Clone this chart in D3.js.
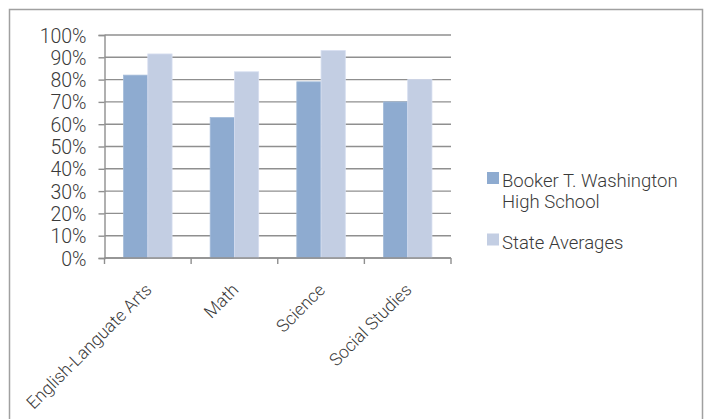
<!DOCTYPE html>
<html>
<head>
<meta charset="utf-8">
<script src="https://cdn.jsdelivr.net/npm/d3@7"></script>
<style>
  html, body { margin: 0; padding: 0; background: #fff; }
  svg text { font-family: "Roboto", "Liberation Sans", sans-serif; font-weight: 300; fill: #3a3a3a; }
</style>
</head>
<body>
<svg id="chart" width="707" height="419"></svg>
<script>
// Subjects along the x axis
const categories = ["English-Languate Arts", "Math", "Science", "Social Studies"];
// Series names and their percentages (0-100)
const seriesNames = ["Booker T. Washington High School", "State Averages"];
const schoolValues = [82, 63, 79, 70];
const stateValues = [91.5, 83.5, 93, 80];
// Y axis ticks
const yTicks = [0, 10, 20, 30, 40, 50, 60, 70, 80, 90, 100];

const colors = ["#8eabd0", "#c3cee3"];
const series = [schoolValues, stateValues];

const svg = d3.select("#chart");
const W = 707, H = 419;

// Outer chart frame (open at the bottom edge of the page)
svg.append("path")
  .attr("d", `M9.5,${H + 5} V9.5 H702.5 V${H + 5}`)
  .attr("fill", "none")
  .attr("stroke", "#a0a0a0")
  .attr("stroke-width", 1.5);

const plot = { left: 104.5, right: 451, top: 35, bottom: 258 };

const x0 = d3.scaleBand()
  .domain(categories)
  .range([plot.left, plot.right])
  .paddingInner(0.44)
  .paddingOuter(0.22);

const x1 = d3.scaleBand()
  .domain(d3.range(series.length))
  .range([0, x0.bandwidth()]);

const y = d3.scaleLinear()
  .domain([0, 100])
  .range([plot.bottom, plot.top]);

// Horizontal gridlines
svg.append("g")
  .selectAll("line")
  .data(yTicks)
  .join("line")
  .attr("x1", plot.left)
  .attr("x2", plot.right)
  .attr("y1", d => y(d))
  .attr("y2", d => y(d))
  .attr("stroke", "#8f8f8f")
  .attr("stroke-width", 1.4);

// Bars
const groups = svg.append("g")
  .selectAll("g")
  .data(categories)
  .join("g")
  .attr("transform", d => `translate(${x0(d)},0)`);

groups.selectAll("rect")
  .data((d, i) => series.map((s, k) => ({ k, v: s[i] })))
  .join("rect")
  .attr("x", d => x1(d.k))
  .attr("width", x1.bandwidth())
  .attr("y", d => y(d.v))
  .attr("height", d => y(0) - y(d.v))
  .attr("fill", d => colors[d.k])
  .attr("stroke", d => d.k === 0 ? "#a3bbd9" : "#d6def0")
  .attr("stroke-width", 0.8);

// Y axis
const yAxis = svg.append("g")
  .attr("transform", `translate(${plot.left},0)`)
  .call(d3.axisLeft(y)
    .tickValues(yTicks)
    .tickSize(6)
    .tickPadding(12)
    .tickFormat(d => d + "%"));
yAxis.select(".domain").attr("stroke", "#8f8f8f").attr("stroke-width", 1.4);
yAxis.selectAll(".tick line").attr("stroke", "#8f8f8f").attr("stroke-width", 1.4);
yAxis.selectAll(".tick text")
  .attr("font-size", 19.5)
  .attr("dy", "0.36em");

// X axis: ticks sit on the category boundaries
const boundaries = categories.map(c => x0(c) - x0.step() * x0.paddingInner() / 2)
  .concat([plot.right]);
boundaries[0] = plot.left;
const xAxis = svg.append("g");
xAxis.append("line")
  .attr("x1", plot.left).attr("x2", plot.right)
  .attr("y1", plot.bottom).attr("y2", plot.bottom)
  .attr("stroke", "#8f8f8f").attr("stroke-width", 1.4);
xAxis.selectAll("line.tk")
  .data(boundaries)
  .join("line")
  .attr("class", "tk")
  .attr("x1", d => d).attr("x2", d => d)
  .attr("y1", plot.bottom).attr("y2", plot.bottom + 6)
  .attr("stroke", "#8f8f8f").attr("stroke-width", 1.4);
xAxis.selectAll("text")
  .data(categories)
  .join("text")
  .attr("font-size", 17.5)
  .attr("text-anchor", "end")
  .attr("transform", d => `translate(${x0(d) + x0.bandwidth() / 2 + 5},${plot.bottom + 33}) rotate(-45)`)
  .text(d => d);

// Legend
const legend = svg.append("g");
const legendItems = [
  { lines: ["Booker T. Washington", "High School"], color: colors[0], y: 172 },
  { lines: ["State Averages"], color: colors[1], y: 233.5 }
];
legendItems.forEach(item => {
  legend.append("rect")
    .attr("x", 487).attr("y", item.y)
    .attr("width", 12).attr("height", 12)
    .attr("fill", item.color);
  const t = legend.append("text")
    .attr("x", 502)
    .attr("y", item.y + 15)
    .attr("font-size", 18.5);
  item.lines.forEach((ln, i) => {
    t.append("tspan").attr("x", 502).attr("dy", i === 0 ? 0 : 20.5).text(ln);
  });
});
</script>
</body>
</html>
